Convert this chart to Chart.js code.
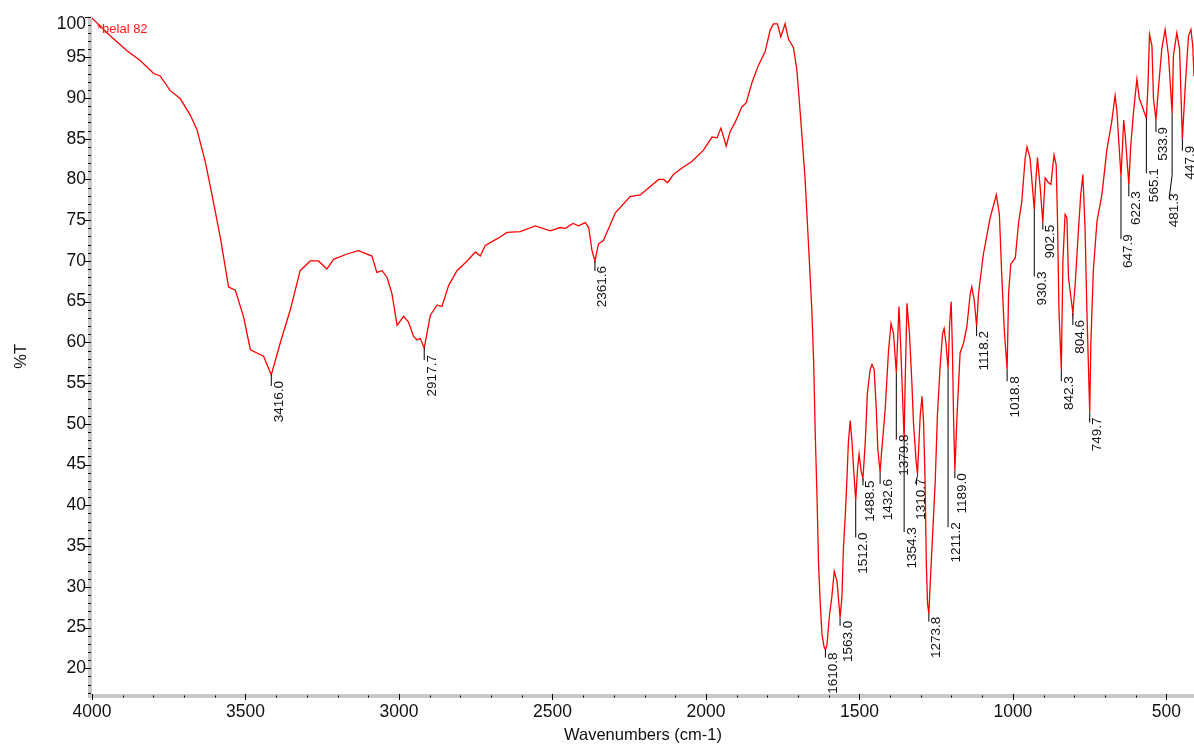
<!DOCTYPE html>
<html>
<head>
<meta charset="utf-8">
<title>belal 82 IR spectrum</title>
<script src="https://cdn.jsdelivr.net/npm/chart.js@4.4.1/dist/chart.umd.min.js"></script>
<style>
  html, body { margin: 0; padding: 0; background: #fff; }
  #wrap { width: 1194px; height: 748px; }
</style>
</head>
<body>
<div id="wrap"><canvas id="spectrum" width="1194" height="748"></canvas></div>
<script>
// FTIR trace, wavenumber (cm-1) vs %T
const wavenumbers = [
  4000, 3940, 3886, 3843, 3799, 3778, 3745, 3712, 3680, 3658, 3631, 3609, 3582, 3555, 3533, 3506, 3484, 3441, 3416.0,
  3387, 3354, 3322, 3289, 3262, 3235, 3213, 3169, 3132, 3088, 3072, 3055, 3039, 3023, 3006, 2985, 2969, 2952, 2941, 2931, 2917.7,
  2898, 2876, 2860, 2838, 2811, 2778, 2751, 2735, 2719, 2681, 2648, 2605, 2556, 2507, 2475, 2458, 2433, 2415, 2393, 2382, 2371, 2361.6,
  2350, 2334, 2295, 2247, 2214, 2192, 2154, 2138, 2125, 2106, 2078, 2046, 2008, 1980, 1964, 1951, 1934, 1921, 1905, 1883, 1869,
  1850, 1829, 1807, 1791, 1780, 1767, 1756, 1742, 1731, 1715, 1704, 1693, 1677, 1666, 1655, 1649, 1644, 1638, 1633, 1628, 1622, 1615, 1610.8,
  1606, 1597, 1590, 1582, 1573, 1563.0, 1557, 1552, 1546, 1541, 1536, 1530, 1524, 1519, 1512.0, 1506, 1501, 1494, 1488.5,
  1481, 1474, 1465, 1459, 1452, 1445, 1440, 1432.6, 1427, 1416, 1405, 1397, 1389, 1379.8, 1371, 1365, 1354.3,
  1351, 1345, 1337, 1329, 1324, 1315, 1310.7, 1302, 1296, 1291, 1286, 1282, 1278, 1273.8, 1269, 1261, 1253, 1246, 1237, 1229, 1224, 1218, 1211.2,
  1206, 1201, 1197, 1193, 1189.0, 1182, 1172, 1161, 1150, 1139, 1134, 1126, 1118.2, 1112, 1096, 1074, 1054, 1044, 1036, 1028, 1018.8,
  1014, 1007, 992, 982, 971, 960, 954, 944, 930.3, 926, 920, 911, 902.5, 895, 884, 876, 866, 859, 855, 850, 842.3,
  837, 830, 824, 819, 804.6, 797, 786, 779, 772, 765, 759, 749.7, 746, 738, 726, 710, 694, 678, 667, 661, 647.9,
  643, 639, 634, 622.3, 616, 607, 596, 588, 580, 565.1, 560, 555, 547, 542, 533.9, 526, 515, 504, 493, 481.3,
  477, 466, 457, 447.9, 439, 428, 420, 414, 410
];
const transmittance = [
  99.8, 97.6, 95.8, 94.6, 93.0, 92.7, 90.9, 89.9, 87.9, 86.1, 82.2, 78.1, 72.9, 66.8, 66.4, 63.1, 59.1, 58.3, 56.0,
  59.9, 64.0, 68.8, 70.0, 70.0, 69.0, 70.2, 70.85, 71.25, 70.6, 68.6, 68.8, 68.0, 66.0, 62.1, 63.2, 62.5, 60.7, 60.3, 60.5, 59.3,
  63.3, 64.6, 64.4, 67.0, 68.8, 70.0, 71.1, 70.6, 71.9, 72.7, 73.5, 73.6, 74.3, 73.7, 74.1, 74.0, 74.6, 74.3, 74.7, 74.1, 71.25, 70.0,
  72.1, 72.5, 75.9, 77.9, 78.1, 78.8, 80.0, 80.0, 79.6, 80.6, 81.4, 82.2, 83.6, 85.2, 85.1, 86.3, 84.1, 85.9, 87.0, 88.9, 89.4,
  91.9, 94.0, 95.7, 98.3, 99.1, 99.1, 97.5, 99.1, 97.2, 96.2, 93.5, 88.3, 80.1, 72.1, 64.0, 57.5, 49.0, 40.8, 32.7, 28.3, 24.2, 22.6, 22.3,
  22.8, 26.7, 28.7, 31.9, 30.7, 26.2, 28.7, 34.8, 38.8, 42.9, 47.7, 50.4, 47.7, 44.5, 40.6, 44.5, 46.3, 44.1, 43.3,
  47.7, 53.8, 56.7, 57.3, 56.7, 51.8, 46.9, 44.1, 46.9, 51.8, 59.1, 62.3, 61.1, 56.3, 64.4, 59.1, 48.0,
  55.0, 64.8, 61.1, 55.0, 50.2, 45.3, 43.9, 51.0, 53.4, 50.2, 42.9, 32.8, 27.9, 26.7, 30.7, 36.8, 42.9, 51.0, 57.1, 61.1, 61.7, 59.9, 56.7,
  62.3, 65.0, 59.1, 50.2, 44.3, 51.0, 58.7, 59.9, 61.9, 66.0, 66.8, 65.2, 62.0, 66.0, 70.85, 75.3, 78.1, 75.7, 68.0, 61.5, 56.7,
  66.0, 69.6, 70.4, 74.5, 77.3, 82.6, 84.0, 82.6, 76.3, 79.4, 82.7, 79.0, 74.7, 80.2, 79.6, 79.4, 83.0, 81.8, 75.7, 64.0, 56.7,
  70.0, 75.7, 75.3, 68.0, 63.6, 67.2, 74.1, 78.1, 80.6, 74.1, 64.0, 51.4, 59.9, 68.8, 74.9, 78.1, 83.6, 87.1, 90.3, 88.3, 80.4,
  84.0, 87.3, 85.4, 79.4, 84.2, 88.3, 92.3, 89.9, 89.1, 87.5, 91.5, 97.8, 96.4, 89.9, 87.3, 91.1, 96.0, 98.4, 95.2, 88.1,
  95.2, 98.0, 96.0, 85.0, 91.1, 97.6, 98.4, 96.4, 92.7
];

const xTickValues = [4000, 3500, 3000, 2500, 2000, 1500, 1000, 500];
const yTickValues = [20, 25, 30, 35, 40, 45, 50, 55, 60, 65, 70, 75, 80, 85, 90, 95, 100];

// picked peaks
const peakPositions = [
  3416.0, 2917.7, 2361.6, 1610.8, 1563.0, 1512.0, 1488.5, 1432.6, 1379.8, 1354.3, 1310.7, 1273.8, 1211.2, 1189.0,
  1118.2, 1018.8, 930.3, 902.5, 842.3, 804.6, 749.7, 647.9, 622.3, 565.1, 533.9, 481.3, 447.9
];

const sampleName = '*belal 82';

const FONT = '"Liberation Sans", Arial, Helvetica, sans-serif';

// how far below the peak each label starts, and sideways nudge for bent leaders (px)
const labelDrop = [6, 7, 5, 3, 3, 32, 2, 7, 62, 87, 5, 3, 153, 3, 5, 7, 62, 2, 7, 7, 5, 58, 7, 50, 7, 80, 7];
const labelShift = [0, 0, 0, 0, 0, 0, 0, 0, 0, 0, -4, 0, 0, 0, 0, 0, 0, 0, 0, 0, 0, 0, 0, 0, 0, -6, 0];

const spectrumPoints = wavenumbers.map((w, i) => ({ x: w, y: transmittance[i] }));

// gray axis bars with major / minor ticks
const axisFrame = {
  id: 'axisFrame',
  afterDatasetsDraw(chart) {
    const { ctx, chartArea: a, scales: { x, y } } = chart;
    ctx.save();
    ctx.fillStyle = '#c9c9c9';
    ctx.fillRect(a.left - 4, a.top, 4, a.bottom - a.top + 2);
    ctx.fillRect(a.left - 4, a.bottom - 2, a.right - a.left + 4, 4);

    ctx.strokeStyle = '#000';
    ctx.lineWidth = 1;
    ctx.beginPath();
    for (let v = 17; v <= 100; v++) {
      const py = Math.round(y.getPixelForValue(v)) + 0.5;
      const major = v % 5 === 0;
      ctx.moveTo(a.left - (major ? 7 : 4), py);
      ctx.lineTo(a.left - 1, py);
    }
    for (let w = 500; w <= 4000; w += 100) {
      const px = Math.round(x.getPixelForValue(w)) + 0.5;
      if (w % 500 === 0) {
        ctx.moveTo(px, a.bottom - 2);
        ctx.lineTo(px, a.bottom + 4);
      } else {
        ctx.moveTo(px, a.bottom - 0.5);
        ctx.lineTo(px, a.bottom + 1.5);
      }
    }
    ctx.stroke();

    // top tick label sits a little lower so it stays inside the canvas
    ctx.fillStyle = '#111';
    ctx.font = '17.5px ' + FONT;
    ctx.textAlign = 'right';
    ctx.textBaseline = 'middle';
    ctx.fillText('100', a.left - 6, y.getPixelForValue(100) + 8);
    ctx.restore();
  }
};

// peak annotations: leader line plus vertical wavenumber text
const peakMarks = {
  id: 'peakMarks',
  afterDatasetsDraw(chart) {
    const { ctx, scales: { x, y }, chartArea: a } = chart;
    ctx.save();
    ctx.strokeStyle = '#000';
    ctx.fillStyle = '#111';
    ctx.lineWidth = 1;
    ctx.font = '13.5px ' + FONT;
    peakPositions.forEach((w, i) => {
      const idx = wavenumbers.indexOf(w);
      const px = x.getPixelForValue(w);
      const py = y.getPixelForValue(transmittance[idx]);
      const textTop = py + labelDrop[i];
      const shift = labelShift[i];
      const lineEnd = textTop + 5;
      ctx.beginPath();
      ctx.moveTo(px, py);
      if (shift) {
        const bend = Math.max(py + 2, textTop - 18);
        ctx.lineTo(px, bend);
        ctx.lineTo(px + shift / 2, lineEnd);
      } else {
        ctx.lineTo(px, lineEnd);
      }
      ctx.stroke();

      ctx.save();
      ctx.translate(px + 1 + shift, textTop);
      ctx.rotate(-Math.PI / 2);
      ctx.textAlign = 'right';
      ctx.textBaseline = 'top';
      ctx.fillText(w.toFixed(1), 0, 0);
      ctx.restore();
    });

    // sample name in the top corner
    ctx.fillStyle = '#ff1a1a';
    ctx.font = '13px ' + FONT;
    ctx.textAlign = 'left';
    ctx.textBaseline = 'alphabetic';
    ctx.fillText(sampleName, a.left + 5, a.top + 16);
    ctx.restore();
  }
};

new Chart(document.getElementById('spectrum'), {
  type: 'line',
  data: {
    datasets: [{
      label: sampleName,
      data: spectrumPoints,
      borderColor: '#ff0000',
      borderWidth: 1.3,
      pointRadius: 0,
      tension: 0,
      fill: false
    }]
  },
  options: {
    responsive: false,
    animation: false,
    devicePixelRatio: 1,
    layout: { padding: { top: 11, left: 0, right: 0, bottom: 0 } },
    plugins: {
      legend: { display: false },
      tooltip: { enabled: false }
    },
    scales: {
      x: {
        type: 'linear',
        reverse: true,
        min: 410,
        max: 4000,
        afterBuildTicks: (scale) => { scale.ticks = xTickValues.map(v => ({ value: v })); },
        afterFit: (scale) => { scale.height = 52; },
        grid: { display: false, drawTicks: false },
        border: { display: false },
        ticks: {
          color: '#111',
          font: { family: FONT, size: 17.5 },
          padding: 6,
          maxRotation: 0,
          autoSkip: false,
          callback: (v) => String(v)
        },
        title: {
          display: true,
          text: 'Wavenumbers (cm-1)',
          color: '#111',
          font: { family: FONT, size: 16.5 },
          padding: { top: 0, bottom: 3 }
        }
      },
      y: {
        type: 'linear',
        min: 16.6,
        max: 100,
        afterBuildTicks: (scale) => { scale.ticks = yTickValues.map(v => ({ value: v })); },
        afterFit: (scale) => { scale.width = 92; },
        grid: { display: false, drawTicks: false },
        border: { display: false },
        ticks: {
          color: '#111',
          font: { family: FONT, size: 17.5 },
          padding: 6,
          autoSkip: false,
          callback: (v) => (v === 100 ? '' : String(v))
        },
        title: {
          display: true,
          text: '%T',
          color: '#111',
          font: { family: FONT, size: 16.5 },
          padding: { top: 12, bottom: 0 }
        }
      }
    }
  },
  plugins: [axisFrame, peakMarks]
});
</script>
</body>
</html>
